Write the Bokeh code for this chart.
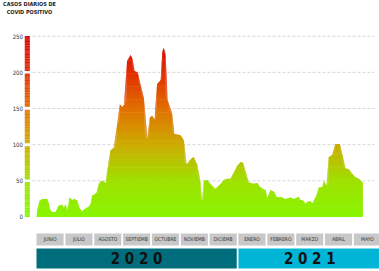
import numpy as np
from bokeh.plotting import figure
from bokeh.models import Range1d
from bokeh.core.properties import value
from bokeh.embed import file_html
from bokeh.resources import INLINE

# ---- data (x = fractional month index, 0 = start of June 2020) ----
mes = [0.00, 0.03, 0.10, 0.20, 0.37, 0.42, 0.49, 0.54, 0.66, 0.72, 0.77, 0.89, 0.95,
       1.01, 1.06, 1.15, 1.24, 1.29, 1.41, 1.50, 1.58, 1.70, 1.81, 1.87, 1.93,
       2.01, 2.08, 2.16, 2.24, 2.33, 2.39, 2.47, 2.56, 2.68, 2.80, 2.89, 2.97,
       3.03, 3.14, 3.26, 3.32, 3.40, 3.51, 3.60, 3.72, 3.84, 3.93,
       4.01, 4.09, 4.18, 4.30, 4.36, 4.41, 4.47, 4.55, 4.70, 4.78, 4.99,
       5.11, 5.20, 5.34, 5.45, 5.57, 5.68, 5.74, 5.80, 5.92,
       6.03, 6.20, 6.38, 6.49, 6.61, 6.72, 6.84, 6.96,
       7.07, 7.16, 7.24, 7.36, 7.53, 7.65, 7.76, 7.94,
       8.00, 8.11, 8.23, 8.34, 8.46, 8.63, 8.80, 8.92,
       9.09, 9.15, 9.27, 9.32, 9.38, 9.50, 9.56, 9.67, 9.79, 9.90, 9.96,
       10.05, 10.13, 10.25, 10.36, 10.51, 10.60, 10.71, 10.83, 10.94,
       11.06, 11.17, 11.31, 11.311]
casos = [0, 10, 22, 25, 25, 20, 9, 7, 7, 12, 16, 17, 13,
         18, 10, 27, 23, 25, 23, 12, 8, 12, 14, 18, 30,
         31, 34, 46, 50, 49, 47, 69, 92, 96, 129, 156, 152,
         155, 216, 224, 220, 202, 200, 184, 165, 110, 138,
         140, 135, 184, 189, 228, 234, 226, 161, 143, 115, 113,
         106, 73, 80, 83, 73, 50, 23, 50, 51,
         46, 39, 46, 51, 53, 53, 62, 71,
         76, 75, 64, 48, 46, 47, 41, 37,
         27, 37, 35, 27, 28, 25, 27, 25,
         28, 24, 22, 18, 21, 22, 19, 27, 41, 41, 50,
         44, 83, 86, 101, 101, 87, 67, 66, 60,
         55, 53, 48, 0]

meses = ["JUNIO", "JULIO", "AGOSTO", "SEPTIEMB", "OCTUBRE", "NOVIEMB",
         "DICIEMB", "ENERO", "FEBRERO", "MARZO", "ABRIL", "MAYO"]
anios = ["2 0 2 0", "2 0 2 1"]
anio_meses = [7, 5]          # number of months under each year
ticks = [0, 50, 100, 150, 200, 250]
titulo = ["CASOS DIARIOS DE", "COVID POSITIVO"]

FONT = "DejaVu Sans Condensed"

stops_v = [0, 50, 100, 150, 200, 250]
stops_c = [(136, 245, 0), (160, 225, 0), (205, 172, 0), (225, 112, 0), (225, 45, 0), (220, 0, 0)]


def grad(v):
    r = np.interp(v, stops_v, [c[0] for c in stops_c])
    g = np.interp(v, stops_v, [c[1] for c in stops_c])
    b = np.interp(v, stops_v, [c[2] for c in stops_c])
    return "#%02x%02x%02x" % (int(r), int(g), int(b))


W, H = 379, 271
p = figure(width=W, height=H, output_backend="svg", toolbar_location=None,
           x_range=Range1d(-1.2478, 11.889), y_range=Range1d(-75.36, 299.36),
           min_border=0, outline_line_color=None)
p.axis.visible = False
p.grid.visible = False
p.background_fill_color = "white"

# grid lines
gt = ticks[1:]
p.segment(x0=[-0.14] * len(gt), x1=[11.72] * len(gt), y0=gt, y1=gt,
          line_color="#d6d6d6", line_width=1, line_dash="3 2")

# gradient-filled area as stacked horizontal bands
x = np.array(mes)
v = np.array(casos, dtype=float)
step = 2.0
xs, ys, cols = [], [], []
for k in np.arange(0, max(casos) + step, step):
    lo = np.minimum(v, k)
    hi = np.minimum(v, k + step + 0.9)
    if np.all(hi - lo <= 0):
        continue
    xs.append(list(np.concatenate([x, x[::-1]])))
    ys.append(list(np.concatenate([hi, lo[::-1]])))
    cols.append(grad(k + step / 2))
p.patches(xs=xs, ys=ys, fill_color=cols, line_color=None)

# coloured value bar on the left
bl, bt, bc = [], [], []
for k in np.arange(0, 250, 1.0):
    if any(abs(k + 0.5 - t) < 1.8 for t in ticks[1:-1]):
        continue
    bl.append(k)
    bt.append(k + 1.3)
    bc.append(grad(k + 0.5))
p.quad(left=-0.405, right=-0.232, bottom=bl, top=bt, fill_color=bc, line_color=None)

# tick labels
p.text(x=[-0.47] * len(ticks), y=ticks, text=[str(t) for t in ticks],
       text_align="right", text_baseline="middle", text_font_size="6px",
       text_font=value(FONT), text_color="#333333")

# title
p.text(x=[-0.243, -0.243], y=[294.4, 283.3], text=titulo, text_align="center",
       text_baseline="middle", text_font_size="5.5px", text_font_style="bold",
       text_font=value(FONT), text_color="#222222")

# month boxes
idx = np.arange(len(meses))
p.quad(left=idx, right=idx + 0.94, bottom=-39.4, top=-22.8,
       fill_color="#c8c8c8", line_color=None)
p.text(x=idx + 0.47, y=[-31.1] * len(meses), text=meses, text_align="center",
       text_baseline="middle", text_font_size="5px", text_font=value(FONT),
       text_color="#333333")

# year bars
starts = np.cumsum([0] + anio_meses[:-1])
ends = starts + np.array(anio_meses) - 0.06
p.quad(left=starts, right=ends, bottom=-71.2, top=-43.6,
       fill_color=["#006d7d", "#00b5d6"], line_color=None)
p.text(x=(starts + ends) / 2, y=[-57.4, -57.4], text=anios, text_align="center",
       text_baseline="middle", text_font_size="15px", text_font_style="bold",
       text_font=value(FONT), text_color="#111111")

open("out.html", "w").write(file_html(p, INLINE))
